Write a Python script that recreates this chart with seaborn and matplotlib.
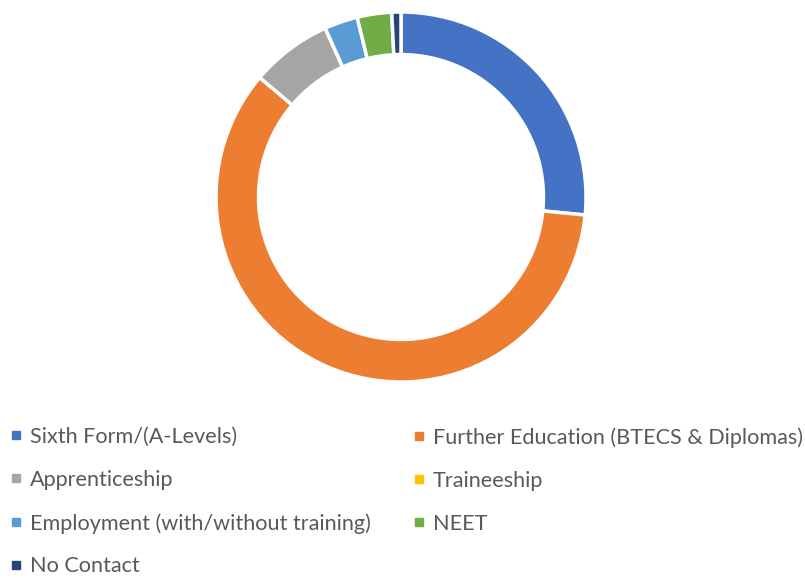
import matplotlib
matplotlib.use("Agg")
import matplotlib.pyplot as plt
from matplotlib.lines import Line2D
import seaborn as sns

categories = ["Sixth Form/(A-Levels)", "Further Education (BTECS & Diplomas)",
              "Apprenticeship", "Traineeship",
              "Employment (with/without training)", "NEET", "No Contact"]
values = [26.5, 59.5, 7.1, 0.0, 2.9, 3.0, 0.8]
colors = ["#4472C4", "#ED7D31", "#A5A5A5", "#FFC000", "#5B9BD5", "#70AD47", "#264478"]

sns.set_theme(style="white")
plt.rcParams['font.family'] = ['Lato', 'DejaVu Sans']

W, H = 805, 578
fig = plt.figure(figsize=(W / 100, H / 100), dpi=100)
cx, cy, r = 401, 197, 185
ax = fig.add_axes([(cx - r) / W, 1 - (cy + r) / H, 2 * r / W, 2 * r / H])
ax.pie(values, colors=colors, startangle=90, counterclock=False,
       radius=1.0, wedgeprops=dict(width=0.23, edgecolor="white", linewidth=2.5))
ax.set_aspect("equal")
ax.set_xlim(-1, 1)
ax.set_ylim(-1, 1)
ax.axis("off")

def handle(c):
    return Line2D([], [], marker="s", linestyle="none", markersize=6,
                  markerfacecolor=c, markeredgecolor=c)

col1 = [0, 2, 4, 6]
col2 = [1, 3, 5]
common = dict(frameon=False, fontsize=15.6, labelcolor="#595959",
              handlelength=0.6, handletextpad=0.35, labelspacing=1.06,
              borderaxespad=0, borderpad=0, loc="upper left")
leg1 = fig.legend([handle(colors[i]) for i in col1], [categories[i] for i in col1],
                  bbox_to_anchor=(9 / W, 1 - 427 / H), **common)
leg2 = fig.legend([handle(colors[i]) for i in col2], [categories[i] for i in col2],
                  bbox_to_anchor=(412 / W, 1 - 427 / H), **common)

fig.savefig("out.png", dpi=100, facecolor="white")
